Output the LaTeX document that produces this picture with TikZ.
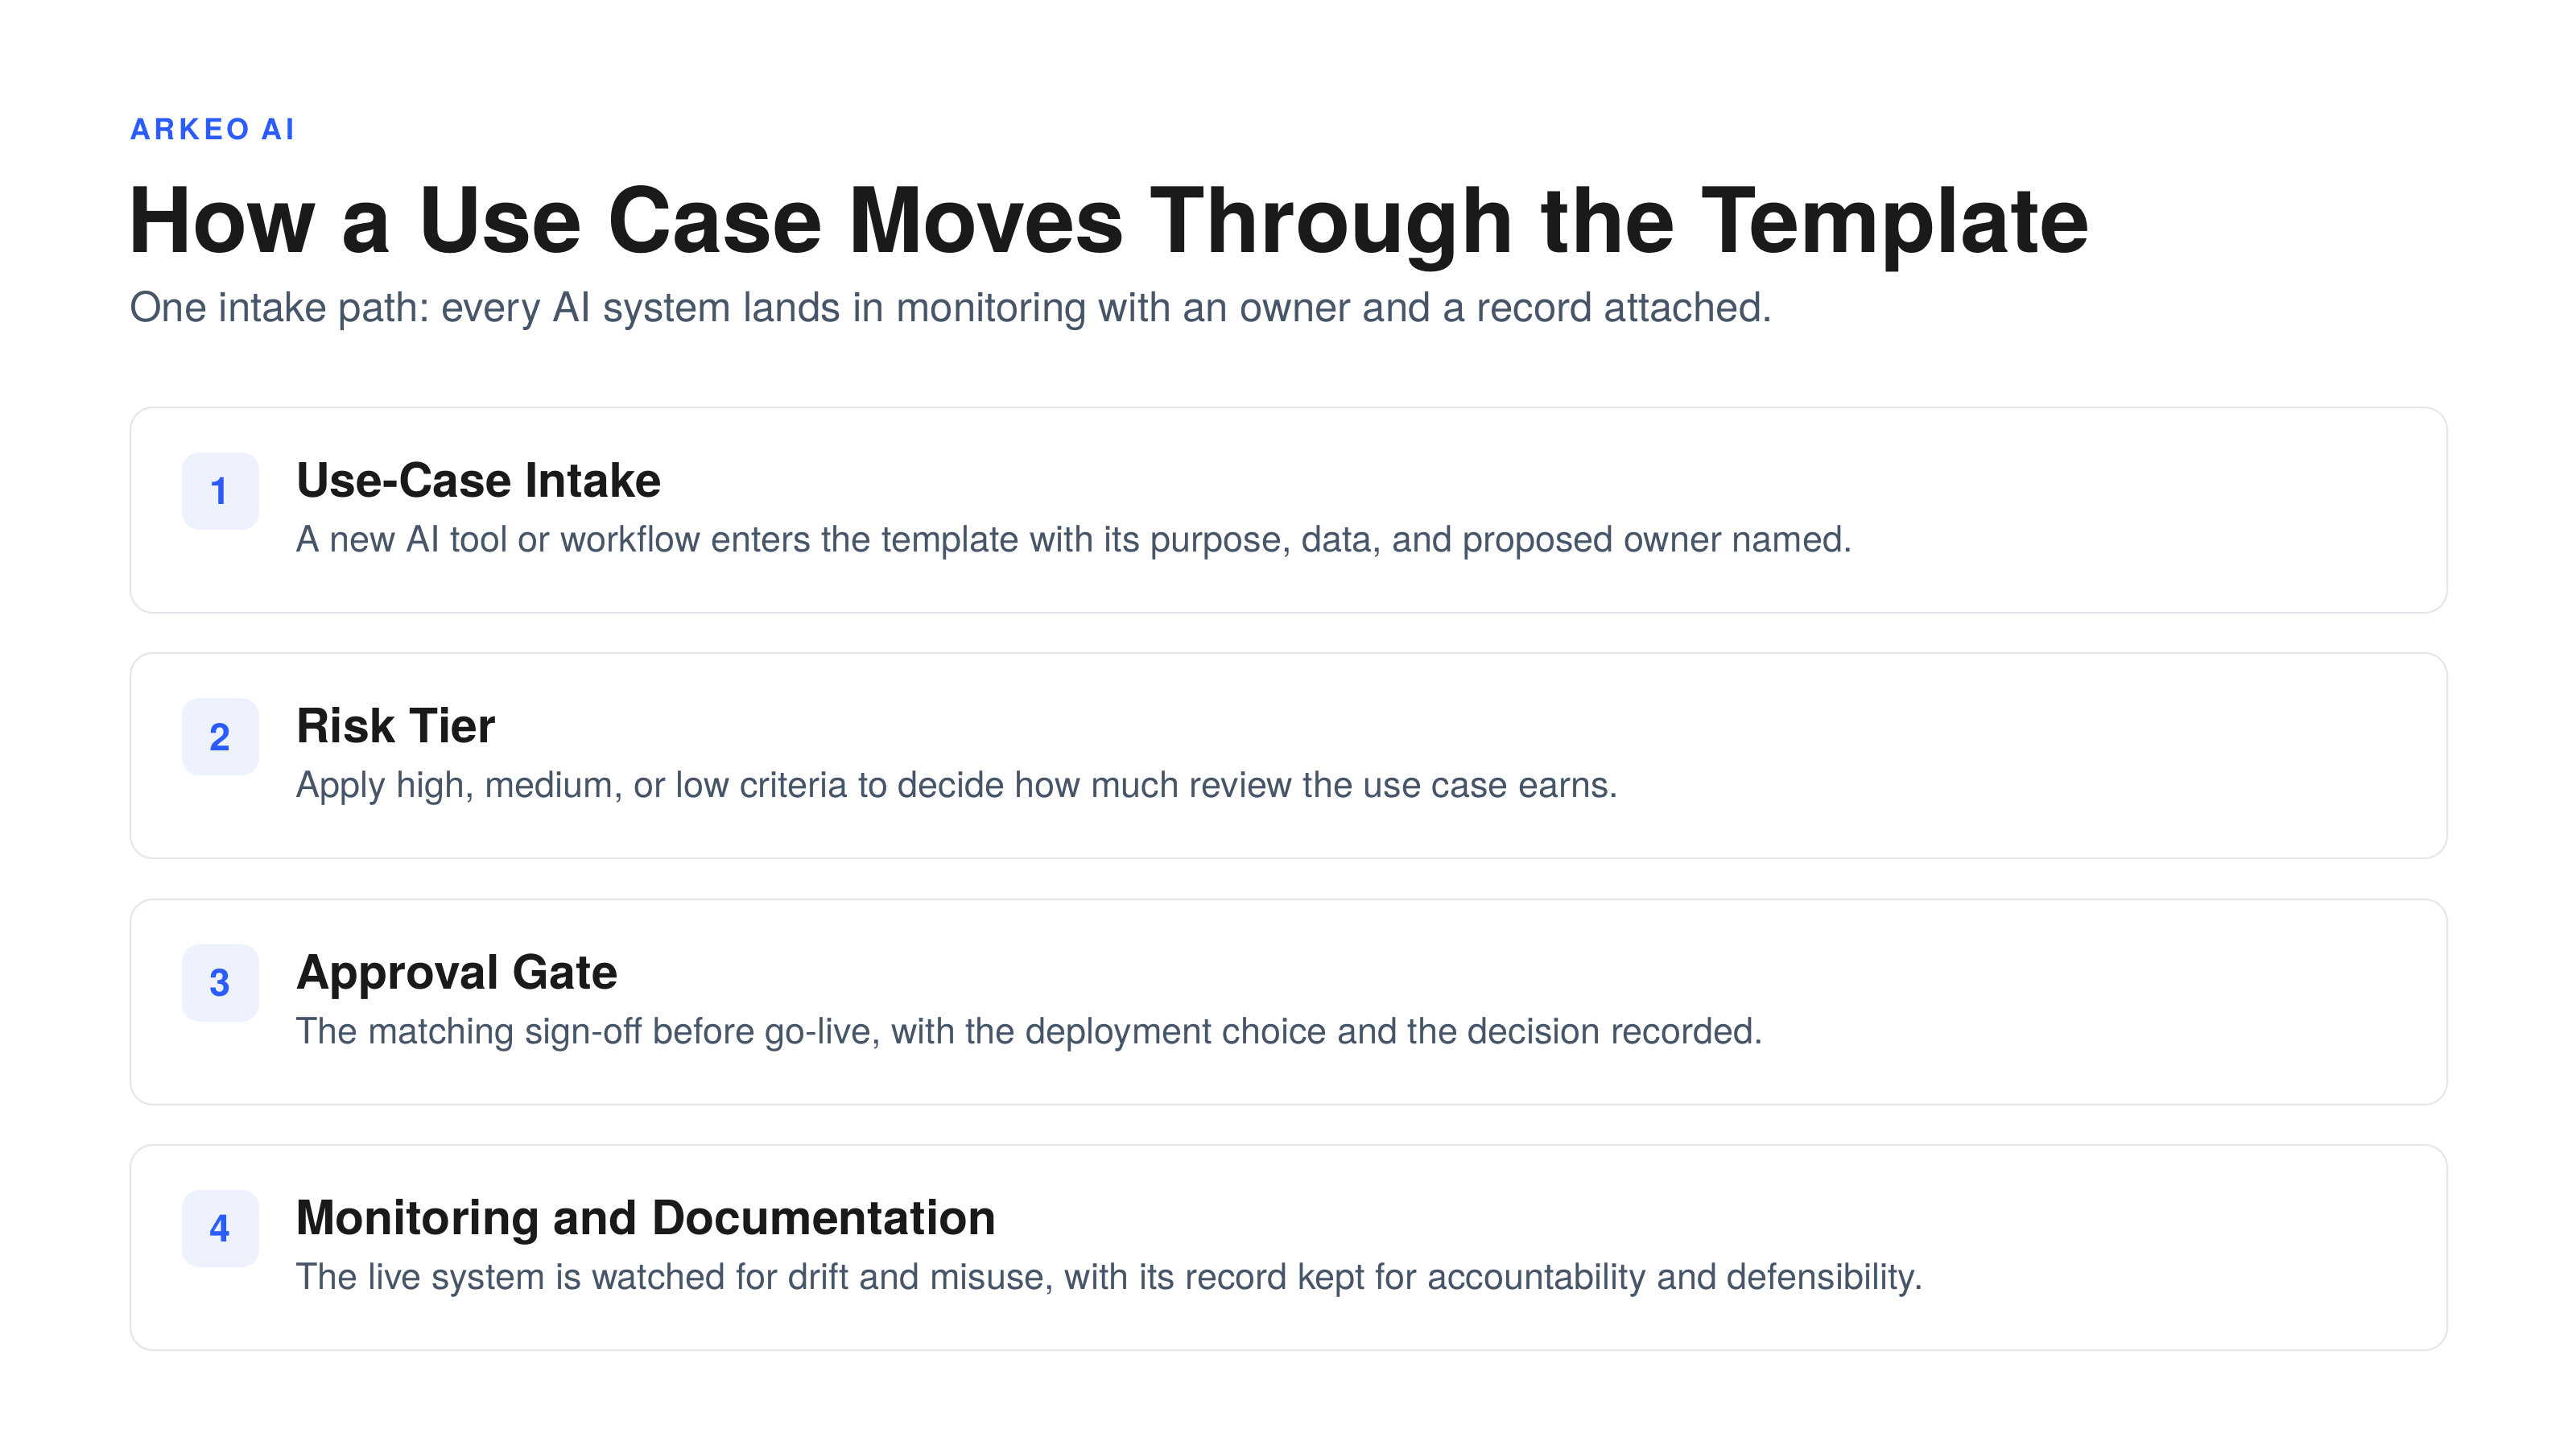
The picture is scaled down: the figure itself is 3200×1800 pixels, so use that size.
\documentclass[tikz,border=0pt]{standalone}
\usepackage{fontspec}
\setmainfont{TeX Gyre Heros}
\frenchspacing
\definecolor{brand}{HTML}{2B5CFF}
\definecolor{ink}{HTML}{1A1A1A}
\definecolor{slate}{HTML}{475569}
\definecolor{cardline}{HTML}{E4E6EC}
\definecolor{badgebg}{HTML}{EEF2FF}
\begin{document}
\begin{tikzpicture}[x=1pt,y=-1pt,
  card/.style={draw=cardline, line width=2pt, rounded corners=28pt, fill=white, anchor=north west, minimum width=2878pt, minimum height=255pt, inner sep=0pt},
  badge/.style={fill=badgebg, rounded corners=22pt, minimum width=96pt, minimum height=96pt, inner sep=0pt, text=brand, font=\fontsize{47}{50}\selectfont\bfseries},
  ctitle/.style={anchor=base west, inner sep=0pt, text=ink, font=\fontsize{59}{64}\selectfont\bfseries},
  cdesc/.style={anchor=base west, inner sep=0pt, text=slate, font=\fontsize{45}{50}\selectfont},
]
\useasboundingbox[fill=white] (0,0) rectangle (3200,1800);

\node[anchor=base west, inner sep=0pt, text=brand, font=\fontsize{36}{40}\selectfont\bfseries\addfontfeature{LetterSpace=13}] (brandname) at (161,173) {ARKEO AI};
\node[anchor=base west, inner sep=0pt, text=ink, font=\fontsize{112}{120}\selectfont\bfseries] (heading) at (158,313) {How a Use Case Moves Through the Template};
\node[anchor=base west, inner sep=0pt, text=slate, font=\fontsize{51}{56}\selectfont] (subtitle) at (161,399) {One intake path: every AI system lands in monitoring with an owner and a record attached.};

% card 1
\node[card] (c1) at (161,505) {};
\node[badge] (b1) at (274,610) {1};
\node[ctitle] (t1) at (367,617) {Use-Case Intake};
\node[cdesc] (d1) at (367,685) {A new AI tool or workflow enters the template with its purpose, data, and proposed owner named.};

% card 2
\node[card] (c2) at (161,810) {};
\node[badge] (b2) at (274,915) {2};
\node[ctitle] (t2) at (367,922) {Risk Tier};
\node[cdesc] (d2) at (367,990) {Apply high, medium, or low criteria to decide how much review the use case earns.};

% card 3
\node[card] (c3) at (161,1116) {};
\node[badge] (b3) at (274,1221) {3};
\node[ctitle] (t3) at (367,1228) {Approval Gate};
\node[cdesc] (d3) at (367,1296) {The matching sign-off before go-live, with the deployment choice and the decision recorded.};

% card 4
\node[card] (c4) at (161,1421) {};
\node[badge] (b4) at (274,1526) {4};
\node[ctitle] (t4) at (367,1533) {Monitoring and Documentation};
\node[cdesc] (d4) at (367,1601) {The live system is watched for drift and misuse, with its record kept for accountability and defensibility.};
\end{tikzpicture}
\end{document}
